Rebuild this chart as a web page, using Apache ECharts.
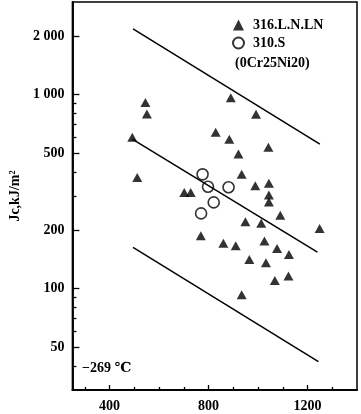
<!DOCTYPE html>
<html>
<head>
<meta charset="utf-8">
<script src="https://cdn.jsdelivr.net/npm/echarts@6/dist/echarts.min.js"></script>
<style>html,body{margin:0;padding:0;background:#fff}#c{width:361px;height:414px}</style>
</head>
<body>
<div id="c"></div>
<script>
// ---- data ----
const triX = [545, 551, 492, 512, 702, 728, 890, 992, 829, 884, 1042, 921, 934, 989, 1044, 1044, 1044, 1090, 949, 1013, 1249, 769, 860, 910, 1026, 1077, 1125, 965, 1032, 1068, 1123, 934];
const triY = [910, 795, 602, 374, 313, 313, 963, 791, 639, 588, 535, 494, 388, 339, 349, 304, 279, 239, 221, 217, 204, 187, 171, 166, 176, 161, 150, 141, 136, 110, 116, 93];
const cirX = [776, 798, 881, 821, 770];
const cirY = [388, 335, 333, 278, 244];
const upperLine = [[495, 2180], [1250, 555]];
const middleLine = [[492, 590], [1240, 154]];
const lowerLine = [[495, 163], [1244, 42]];
const xMajorTicks = [400, 800, 1200];
const xTickLabels = ['400', '800', '1200'];
const xMinorTicks = [300, 500, 600, 700, 900, 1000, 1100, 1300];
const yMajorTicks = [50, 100, 200, 500, 1000, 2000];
const yTickLabels = ['50', '100', '200', '500', '1 000', '2 000'];
const yMinorTicks = [40, 60, 70, 80, 90, 300, 400, 600, 700, 800, 900];
const seriesNames = ['316.L.N.LN', '310.S'];
const noteText = '(0Cr25Ni20)';
const tempText = '\u2212269 \u2103';
const yName = 'Jc,kJ/m\u00b2';

const font = '"Liberation Serif","DejaVu Serif",serif';
const zip = (a, b) => a.map((v, i) => [v, b[i]]);
const pick = (ticks, labels) => (v) => {
  const i = ticks.findIndex(t => Math.abs(t - v) < 1e-6 * t);
  return i >= 0 ? labels[i] : '';
};

const chart = echarts.init(document.getElementById('c'));
const lineSeries = (d) => ({
  type: 'line', data: d, xAxisIndex: 0, yAxisIndex: 0, symbol: 'none',
  lineStyle: { color: '#000', width: 1.5 }, silent: true, z: 1
});
const yBase = {
  type: 'log', logBase: 10, min: 30, max: 3000, splitLine: { show: false },
  axisLine: { show: true, lineStyle: { color: '#000', width: 1.5 } }
};
const xBase = {
  type: 'value', min: 250, max: 1400, splitLine: { show: false },
  axisLine: { show: true, lineStyle: { color: '#000', width: 1.5 } }
};
chart.setOption({
  animation: false,
  backgroundColor: '#fff',
  grid: { left: 66, top: 2, right: 4, bottom: 24, show: true, borderColor: '#000', borderWidth: 1.5 },
  xAxis: [
    Object.assign({}, xBase, {
      axisTick: { show: true, inside: true, length: 5, customValues: xMajorTicks, lineStyle: { color: '#000', width: 1.3 } },
      axisLabel: { show: true, customValues: xMajorTicks, margin: 9, color: '#000', fontFamily: font, fontWeight: 'bold', fontSize: 14,
        formatter: pick(xMajorTicks, xTickLabels) }
    }),
    Object.assign({}, xBase, {
      position: 'bottom',
      axisTick: { show: true, inside: true, length: 3, customValues: xMinorTicks, lineStyle: { color: '#000', width: 1.3 } },
      axisLabel: { show: false }
    })
  ],
  yAxis: [
    Object.assign({}, yBase, {
      name: yName, nameLocation: 'middle', nameGap: 45, nameRotate: 90,
      nameTextStyle: { color: '#000', fontFamily: font, fontWeight: 'bold', fontSize: 14 },
      axisTick: { show: true, inside: true, length: 7, customValues: yMajorTicks, lineStyle: { color: '#000', width: 1.3 } },
      axisLabel: {
        show: true, customValues: yMajorTicks, margin: 8, color: '#000', fontFamily: font, fontWeight: 'bold', fontSize: 14,
        formatter: pick(yMajorTicks, yTickLabels)
      }
    }),
    Object.assign({}, yBase, {
      position: 'left',
      axisTick: { show: true, inside: true, length: 4, customValues: yMinorTicks, lineStyle: { color: '#000', width: 1.3 } },
      axisLabel: { show: false }
    })
  ],
  legend: {
    orient: 'vertical', left: 232, top: 18, padding: 0, itemGap: 4,
    itemWidth: 11, itemHeight: 11,
    data: [{ name: seriesNames[0], icon: 'triangle' }, { name: seriesNames[1], icon: 'circle' }],
    textStyle: { color: '#000', fontFamily: font, fontWeight: 'bold', fontSize: 14, padding: [0, 0, 0, 4] }
  },
  graphic: [
    { type: 'text', left: 235, top: 56, style: { text: noteText, fill: '#000', font: 'bold 14px ' + font } },
    { type: 'text', left: 82, top: 361, style: { text: tempText, fill: '#000', font: 'bold 14px ' + font } }
  ],
  series: [
    lineSeries(upperLine), lineSeries(middleLine), lineSeries(lowerLine),
    {
      name: seriesNames[0], type: 'scatter', data: zip(triX, triY), symbol: 'triangle', symbolSize: [10, 9],
      itemStyle: { color: '#000' }, z: 3
    },
    {
      name: seriesNames[1], type: 'scatter', data: zip(cirX, cirY), symbol: 'circle', symbolSize: 11,
      itemStyle: { color: 'rgba(0,0,0,0)', borderColor: '#000', borderWidth: 1.6 }, z: 3
    }
  ]
});
</script>
</body>
</html>
